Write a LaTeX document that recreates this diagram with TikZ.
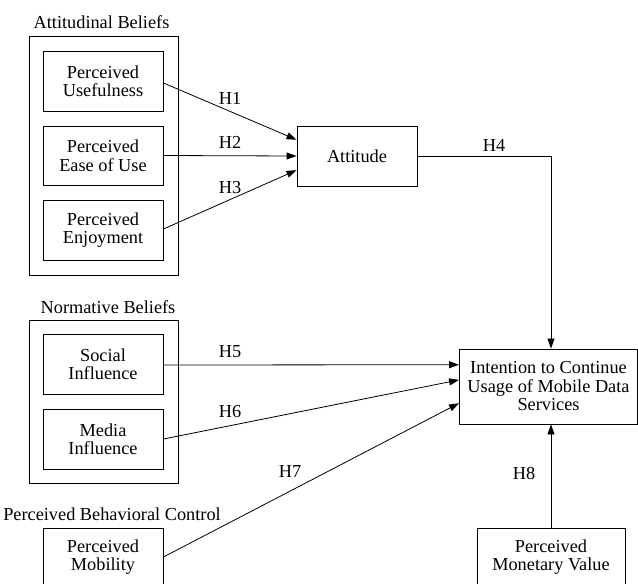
\documentclass[tikz,border=0pt]{standalone}
\usepackage{fontspec}
\setmainfont{Liberation Serif}
\usetikzlibrary{arrows.meta,calc}
\begin{document}
\begin{tikzpicture}[x=1pt,y=-1pt,
  every node/.style={font=\fontsize{18.3}{18.5}\selectfont},
  box/.style={draw,line width=0.9pt,align=center,inner sep=0pt,minimum width=120pt,minimum height=60pt},
  grp/.style={draw,line width=0.9pt},
  lbl/.style={inner sep=0pt},
  arr/.style={line width=0.8pt,-{Triangle[length=10pt,width=7pt]}}]
\useasboundingbox (0,0) rectangle (638,584);
% group frames
\draw[grp] (29,36) rectangle (178,275);
\draw[grp] (29,320) rectangle (178,483);
\node[lbl] (gA) at (101.5,22) {Attitudinal Beliefs};
\node[lbl] (gN) at (108,307) {Normative Beliefs};
\node[lbl] (gP) at (112,514) {Perceived Behavioral Control};
% boxes
\node[box] (PU) at (103,81) {Perceived\\Usefulness};
\node[box,minimum height=59pt] (PE) at (103,155.5) {Perceived\\Ease of Use};
\node[box] (PJ) at (103,230) {Perceived\\Enjoyment};
\node[box] (ATT) at (357,156) {Attitude};
\node[box] (SI) at (103,364) {Social\\Influence};
\node[box] (MI) at (103,439) {Media\\Influence};
\node[box,minimum height=58pt] (PM) at (103,557) {Perceived\\Mobility};
\node[box,minimum width=178pt,minimum height=75pt] (INT) at (548.5,386.5) {Intention to Continue\\Usage of Mobile Data\\Services};
\node[box,minimum width=148pt,minimum height=58pt] (PMV) at (551,557) {Perceived\\Monetary Value};
% connectors
\draw[arr] ($(PU.east)+(0,2)$) -- ($(ATT.north west)!0.233!(ATT.south west)$);
\draw[arr] (PE.east) -- (ATT.west);
\draw[arr] ($(PJ.east)+(0,-1)$) -- ($(ATT.north west)!0.733!(ATT.south west)$);
\draw[arr] (ATT.east) -| (PMV.north |- INT.north);
\draw[arr] ($(SI.east)+(0,1)$) -- ($(INT.north west)!0.213!(INT.south west)$);
\draw[arr] (MI.east) -- ($(INT.north west)!0.413!(INT.south west)$);
\draw[arr] (PM.east) -- ($(INT.north west)!0.72!(INT.south west)$);
\draw[arr] (PMV.north) -- (PMV.north |- INT.south);
% labels
\node[lbl] (h1) at (230,98) {H1};
\node[lbl] (h2) at (230,142) {H2};
\node[lbl] (h3) at (230,188) {H3};
\node[lbl] (h4) at (494,145) {H4};
\node[lbl] (h5) at (230,352) {H5};
\node[lbl] (h6) at (230,412) {H6};
\node[lbl] (h7) at (290,472) {H7};
\node[lbl] (h8) at (524,473) {H8};
\end{tikzpicture}
\end{document}
